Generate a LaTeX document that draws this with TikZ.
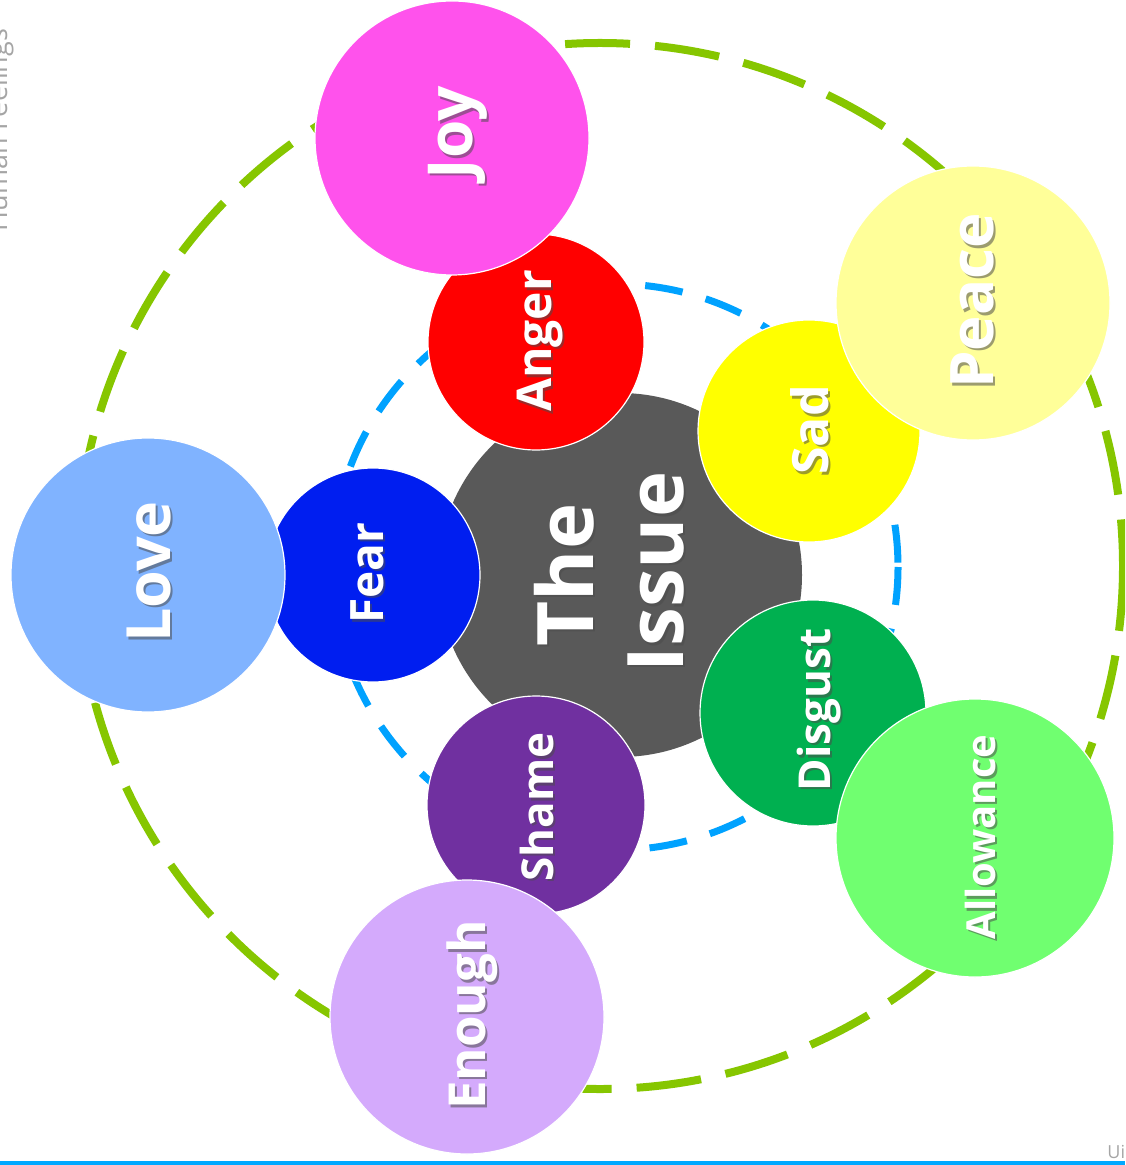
\documentclass[tikz,border=0pt]{standalone}
\usepackage{fontspec}
\setmainfont{Open Sans}
\definecolor{ringgreen}{RGB}{134,198,0}
\definecolor{ringblue}{RGB}{0,162,255}
\definecolor{lineblue}{RGB}{0,168,255}
\definecolor{issuegray}{RGB}{89,89,89}
\definecolor{angerc}{RGB}{255,0,0}
\definecolor{sadc}{RGB}{255,255,0}
\definecolor{disgustc}{RGB}{0,176,80}
\definecolor{shamec}{RGB}{112,48,160}
\definecolor{fearc}{RGB}{0,30,240}
\definecolor{joyc}{RGB}{255,82,236}
\definecolor{peacec}{RGB}{255,255,153}
\definecolor{allowc}{RGB}{112,255,112}
\definecolor{enoughc}{RGB}{212,170,252}
\definecolor{lovec}{RGB}{128,179,255}
\definecolor{softgray}{RGB}{165,165,165}
\newcommand\mylbl[5]{%
  \node[shadowlab=#4] (#1s) at (#2+2.5,#3+2.5) {#5};
  \node[whitelab=#4] (#1) at (#2,#3) {#5};}
\begin{document}
\begin{tikzpicture}[x=0.5pt,y=-0.5pt,
  bub/.style={circle,draw=white,line width=0.6pt,inner sep=0pt,minimum size=#1pt},
  whitelab/.style={rotate=90,anchor=base,text=white,inner sep=0pt,
    font=\bfseries\fontsize{#1}{#1}\selectfont},
  shadowlab/.style={rotate=90,anchor=base,text=black!70,opacity=0.55,inner sep=0pt,
    font=\bfseries\fontsize{#1}{#1}\selectfont}]
\useasboundingbox (0,0) rectangle (1125,1165);
\clip (0,0) rectangle (1125,1165);
% rings
\draw[ringgreen,line width=4pt,dash pattern=on 32.5pt off 12.5pt] (600,566) circle [radius=523];
\draw[ringblue,line width=3.5pt,dash pattern=on 19pt off 12pt] (615,567) circle [radius=283];
% centre
\node[bub=182,fill=issuegray,draw=none] (issue) at (620,575) {};
% inner circles
\node[bub=108,fill=angerc] (anger) at (536,342) {};
\node[bub=111,fill=sadc] (sad) at (809,431) {};
\node[bub=113,fill=disgustc] (disgust) at (813,713) {};
\node[bub=109,fill=shamec] (shame) at (536,805) {};
\node[bub=107,fill=fearc] (fear) at (373,575) {};
% outer circles
\node[bub=137,fill=joyc] (joy) at (452,138) {};
\node[bub=137,fill=peacec] (peace) at (973,303) {};
\node[bub=139,fill=allowc] (allow) at (975,838) {};
\node[bub=137,fill=enoughc] (enough) at (467,1017) {};
\node[bub=137,fill=lovec] (love) at (148,575) {};
% labels
\mylbl{tthe}{593}{575}{39}{The}
\mylbl{tissue}{683}{572}{39}{Issue}
\mylbl{tanger}{551}{341}{24}{Anger}
\mylbl{tfear}{383}{573}{23}{Fear}
\mylbl{tsad}{828}{430}{25}{Sad}
\mylbl{tdisgust}{830}{710}{22}{Disgust}
\mylbl{tshame}{553}{807}{22}{Shame}
\mylbl{tjoy}{472}{133}{31}{Joy}
\mylbl{tlove}{170}{572}{30.5}{Love}
\mylbl{tpeace}{993}{301}{30}{Peace}
\mylbl{tallow}{995}{837}{20}{Allowance}
\mylbl{tenough}{485}{1015}{25.5}{Enough}
% side texts
\node[rotate=90,anchor=base,inner sep=0pt,text=softgray,font=\fontsize{13.5}{13.5}\selectfont] (title) at (7,130) {Human Feelings};
\node[anchor=base west,inner sep=0pt,text=softgray,font=\fontsize{9}{9}\selectfont] (ui) at (1107,1158) {Ui};
% bottom rule
\fill[lineblue] (0,1161) rectangle (1125,1165);
\end{tikzpicture}
\end{document}
